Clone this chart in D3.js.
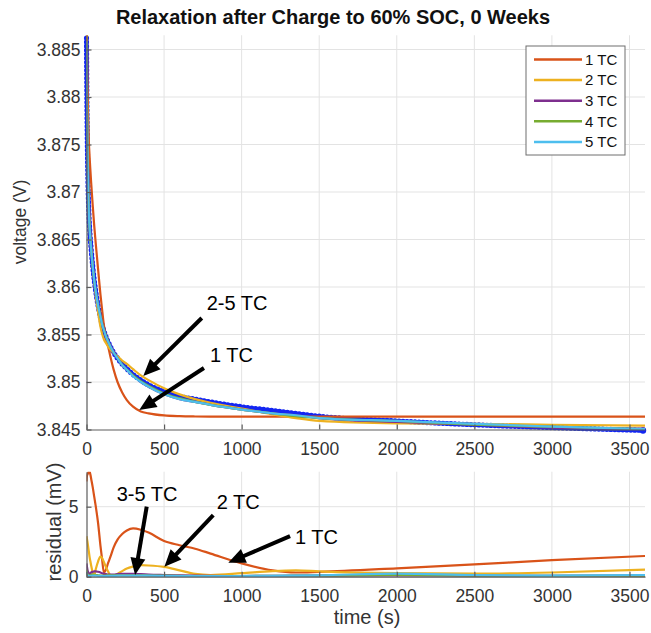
<!DOCTYPE html>
<html>
<head>
<meta charset="utf-8">
<script src="https://cdn.jsdelivr.net/npm/d3@7/dist/d3.min.js"></script>
<style>
  html, body { margin: 0; padding: 0; background: #fff; }
  svg { display: block; font-family: "Liberation Sans", Arial, Helvetica, sans-serif; }
</style>
</head>
<body>
<svg id="chart" width="651" height="633"></svg>
<script>
// Sample times (s) shared by every series
const time = [0, 3, 6, 10, 15, 20, 25, 30, 40, 50, 60, 75, 90, 100, 112, 125, 140, 155, 175, 200,
              230, 260, 300, 350, 400, 500, 600, 700, 800, 1000, 1200, 1350, 1500, 2000, 2500, 3000, 3600];

// Measured cell voltage during rest (V)
const measured = [3.8862, 3.8790, 3.8745, 3.8707, 3.8679, 3.8662, 3.8650, 3.8640, 3.8622, 3.8607,
                  3.8595, 3.8580, 3.8568, 3.8561, 3.8554, 3.8548, 3.8542, 3.8537, 3.8531, 3.8525,
                  3.8519, 3.8514, 3.8508, 3.8502, 3.8497, 3.8490, 3.8485, 3.8482, 3.8479, 3.8474,
                  3.8470, 3.8467, 3.8464, 3.8459, 3.8455, 3.8452, 3.8449];

// Fitted voltage for 1..5 time constants (V)
const fit1TC = [3.8935, 3.8862, 3.8818, 3.8781, 3.8754, 3.8737, 3.8723, 3.8710, 3.8686, 3.8664,
                3.8645, 3.8618, 3.8592, 3.8577, 3.8560, 3.8548, 3.8537, 3.8526, 3.8513, 3.8500,
                3.8489, 3.8481, 3.8474, 3.8469, 3.8467, 3.84648, 3.8464, 3.84637, 3.84636, 3.84635,
                3.84635, 3.84635, 3.84635, 3.84635, 3.84635, 3.84635, 3.84635];
const fit2TC = [3.8891, 3.8815, 3.8766, 3.8723, 3.8690, 3.8669, 3.8654, 3.8642, 3.8622, 3.8605,
                3.8591, 3.8573, 3.8558, 3.8551, 3.8545, 3.8541, 3.8537, 3.8534, 3.85305, 3.8527,
                3.85225, 3.8519, 3.85135, 3.8507, 3.8502, 3.84935, 3.8487, 3.8482, 3.8478, 3.8472,
                3.8466, 3.8462, 3.8459, 3.84565, 3.8456, 3.8455, 3.8454];
const fit3TC = [3.8853, 3.8784, 3.8741, 3.8704, 3.8676, 3.8660, 3.8648, 3.8638, 3.8621, 3.8607,
                3.8596, 3.8582, 3.8570, 3.8563, 3.8556, 3.8549, 3.8543, 3.8538, 3.8532, 3.8525,
                3.8518, 3.8513, 3.8507, 3.8500, 3.8495, 3.8487, 3.8482, 3.8479, 3.8476, 3.8471,
                3.8467, 3.8465, 3.8462, 3.8458, 3.8455, 3.8452, 3.8451];
const fit4TC = [3.8857, 3.8787, 3.8744, 3.8706, 3.8678, 3.8661, 3.8649, 3.8639, 3.8622, 3.8607,
                3.8595, 3.8581, 3.8569, 3.8562, 3.8555, 3.8549, 3.8543, 3.8537, 3.8531, 3.8525,
                3.8518, 3.8513, 3.8507, 3.8501, 3.8496, 3.8488, 3.8483, 3.8479, 3.8476, 3.8471,
                3.8467, 3.8464, 3.8462, 3.8459, 3.8455, 3.8453, 3.84505];
const fit5TC = [3.8859, 3.8788, 3.8745, 3.8706, 3.8679, 3.8662, 3.8650, 3.8639, 3.8622, 3.8607,
                3.8595, 3.8580, 3.8569, 3.8561, 3.8555, 3.8548, 3.8542, 3.8537, 3.8531, 3.8525,
                3.8518, 3.8513, 3.8506, 3.8500, 3.8495, 3.8487, 3.8482, 3.8479, 3.8476, 3.8471,
                3.8467, 3.8465, 3.8462, 3.8459, 3.8456, 3.8453, 3.84505];

// Absolute fit residuals (mV)
const resid1TC = [6.8, 7.2, 7.3, 7.4, 7.5, 7.5, 7.3, 7.0, 6.4, 5.7, 5.0, 3.8, 2.2, 1.3, 0.3, 0.5,
                  1.0, 1.45, 2.1, 2.65, 3.05, 3.3, 3.45, 3.35, 3.15, 2.55, 2.25, 2.0, 1.65, 0.95,
                  0.45, 0.3, 0.35, 0.6, 0.88, 1.18, 1.48];
const resid2TC = [2.9, 2.7, 2.5, 2.2, 1.8, 1.4, 1.1, 0.8, 0.3, 0.1, 0.55, 1.1, 1.43, 1.35, 1.05, 0.7,
                  0.35, 0.1, 0.05, 0.2, 0.4, 0.58, 0.72, 0.82, 0.8, 0.7, 0.45, 0.2, 0.12, 0.25,
                  0.4, 0.45, 0.38, 0.25, 0.22, 0.3, 0.5];
const resid3TC = [0.95, 0.7, 0.5, 0.35, 0.25, 0.2, 0.25, 0.3, 0.35, 0.38, 0.38, 0.35, 0.3, 0.25, 0.2, 0.18,
                  0.15, 0.15, 0.15, 0.18, 0.2, 0.2, 0.2, 0.18, 0.15, 0.12, 0.1, 0.08, 0.06, 0.05,
                  0.06, 0.08, 0.08, 0.1, 0.08, 0.06, 0.08];
const resid4TC = [0.5, 0.3, 0.2, 0.12, 0.1, 0.1, 0.12, 0.14, 0.15, 0.14, 0.12, 0.1, 0.08, 0.08, 0.08, 0.08,
                  0.1, 0.1, 0.1, 0.1, 0.1, 0.1, 0.1, 0.1, 0.08, 0.07, 0.06, 0.05, 0.05, 0.05,
                  0.06, 0.08, 0.08, 0.12, 0.08, 0.06, 0.07];
const resid5TC = [0.35, 0.2, 0.12, 0.08, 0.06, 0.05, 0.06, 0.07, 0.08, 0.08, 0.07, 0.06, 0.06, 0.05, 0.05, 0.05,
                  0.06, 0.06, 0.06, 0.07, 0.07, 0.07, 0.08, 0.08, 0.07, 0.06, 0.05, 0.05, 0.05, 0.05,
                  0.06, 0.08, 0.1, 0.22, 0.12, 0.08, 0.12];

const seriesNames = ["1 TC", "2 TC", "3 TC", "4 TC", "5 TC"];
const seriesColors = ["#D95319", "#EDB120", "#7E2F8E", "#77AC30", "#4DBEEE"];
const fits = [fit1TC, fit2TC, fit3TC, fit4TC, fit5TC];
const resids = [resid1TC, resid2TC, resid3TC, resid4TC, resid5TC];

const timeTicks = [0, 500, 1000, 1500, 2000, 2500, 3000, 3500];
const voltTicks = [3.845, 3.85, 3.855, 3.86, 3.865, 3.87, 3.875, 3.88, 3.885];
const residTicks = [0, 5];

const titleText = "Relaxation after Charge to 60% SOC, 0 Weeks";

// Arrow call-outs, in data units: label anchor, arrow tail, arrow head
const voltNotes = [
  { label: "2-5 TC", at: [775, 3.85832], tail: [743, 3.85674], head: [366, 3.85063] },
  { label: "1 TC",   at: [796, 3.85284], tail: [757, 3.85147], head: [340, 3.84705] }
];
const residNotes = [
  { label: "3-5 TC", at: [195, 5.9],  tail: [388, 5.0], head: [313, 0.12] },
  { label: "2 TC",   at: [839, 5.36], tail: [817, 4.4], head: [502, 0.71] },
  { label: "1 TC",   at: [1344, 2.86], tail: [1312, 2.9], head: [914, 1.0] }
];

// ---------------------------------------------------------------------------
const svg = d3.select("#chart");
const axisColor = "#5c5c5c";
const textColor = "#333333";
const gridColor = "#e3e3e3";
const dataBlue = "#1326f2";

const x = d3.scaleLinear().domain([0, 3600]).range([86.5, 645]);
const yV = d3.scaleLinear().domain([3.845, 3.8865]).range([429.5, 35.25]);
const yR = d3.scaleLinear().domain([0, 7.5]).range([576.7, 471.7]);

const defs = svg.append("defs");
defs.append("clipPath").attr("id", "clipTop").append("rect")
  .attr("x", x.range()[0]).attr("y", yV.range()[1])
  .attr("width", x.range()[1] - x.range()[0] + 2).attr("height", yV.range()[0] - yV.range()[1] + 2);
defs.append("clipPath").attr("id", "clipBot").append("rect")
  .attr("x", x.range()[0]).attr("y", yR.range()[1])
  .attr("width", x.range()[1] - x.range()[0] + 2).attr("height", yR.range()[0] - yR.range()[1] + 2);

function drawGrid(g, yScale, yTicks) {
  g.selectAll("line.vg").data(timeTicks.filter(d => d > 0)).join("line")
    .attr("class", "vg")
    .attr("x1", d => x(d)).attr("x2", d => x(d))
    .attr("y1", yScale.range()[0]).attr("y2", yScale.range()[1])
    .attr("stroke", gridColor).attr("stroke-width", 1);
  g.selectAll("line.hg").data(yTicks.slice(1)).join("line")
    .attr("class", "hg")
    .attr("x1", x.range()[0]).attr("x2", x.range()[1])
    .attr("y1", d => yScale(d)).attr("y2", d => yScale(d))
    .attr("stroke", gridColor).attr("stroke-width", 1);
}

function styleAxis(g, fontSize) {
  g.select(".domain").attr("stroke", axisColor).attr("stroke-width", 1.2);
  g.selectAll(".tick line").attr("stroke", axisColor).attr("stroke-width", 1.2);
  g.selectAll(".tick text").attr("fill", textColor).style("font-size", fontSize + "px")
    .style("font-family", '"Liberation Sans", Arial, Helvetica, sans-serif');
}

function arrow(g, p0, p1) {
  const dx = p1[0] - p0[0], dy = p1[1] - p0[1];
  const L = Math.hypot(dx, dy), ux = dx / L, uy = dy / L;
  const hl = 17, hw = 7.5;
  const bx = p1[0] - ux * hl, by = p1[1] - uy * hl;
  g.append("line")
    .attr("x1", p0[0]).attr("y1", p0[1])
    .attr("x2", bx + ux * 2).attr("y2", by + uy * 2)
    .attr("stroke", "#000").attr("stroke-width", 4);
  g.append("polygon")
    .attr("points", [[p1[0], p1[1]], [bx - uy * hw, by + ux * hw], [bx + uy * hw, by - ux * hw]]
      .map(p => p.join(",")).join(" "))
    .attr("fill", "#000");
}

function drawNotes(g, notes, yScale) {
  notes.forEach(n => {
    arrow(g, [x(n.tail[0]), yScale(n.tail[1])], [x(n.head[0]), yScale(n.head[1])]);
    g.append("text")
      .attr("x", x(n.at[0])).attr("y", yScale(n.at[1])).attr("dy", "0.35em")
      .attr("fill", "#000").style("font-size", "20px")
      .text(n.label);
  });
}

// ---------------- Title ----------------
svg.append("text")
  .attr("x", 333).attr("y", 24)
  .attr("text-anchor", "middle")
  .attr("fill", "#111")
  .style("font-size", "20px").style("font-weight", "bold")
  .text(titleText);

// ---------------- Voltage panel ----------------
const gTop = svg.append("g");
drawGrid(gTop, yV, voltTicks);

const lineV = d3.line().x((d, i) => x(time[i])).y(d => yV(d)).curve(d3.curveMonotoneX);

// measured trace: solid core plus dot markers along it
gTop.append("path").datum(measured)
  .attr("d", lineV).attr("fill", "none")
  .attr("stroke", dataBlue).attr("stroke-width", 3.6);
gTop.append("path").datum(measured)
  .attr("d", lineV).attr("fill", "none")
  .attr("stroke", dataBlue).attr("stroke-width", 5.2)
  .attr("stroke-linecap", "round").attr("stroke-dasharray", "0 4");
gTop.append("circle")
  .attr("cx", x(time[time.length - 1]) - 2).attr("cy", yV(measured[measured.length - 1]))
  .attr("r", 3.2).attr("fill", dataBlue);

const fitLayer = gTop.append("g").attr("clip-path", "url(#clipTop)");
fits.forEach((f, k) => {
  fitLayer.append("path").datum(f)
    .attr("d", lineV).attr("fill", "none")
    .attr("stroke", seriesColors[k]).attr("stroke-width", 2.2)
    .attr("stroke-linejoin", "round");
});

const xAxisTop = gTop.append("g")
  .attr("transform", `translate(0,${yV.range()[0]})`)
  .call(d3.axisBottom(x).tickValues(timeTicks).tickSizeInner(-5).tickSizeOuter(0).tickPadding(13)
    .tickFormat(d3.format("d")));
styleAxis(xAxisTop, 17.5);

const yAxisTop = gTop.append("g")
  .attr("transform", `translate(${x.range()[0]},0)`)
  .call(d3.axisLeft(yV).tickValues(voltTicks).tickSizeInner(-5).tickSizeOuter(0).tickPadding(6)
    .tickFormat(d => String(+d.toFixed(3))));
styleAxis(yAxisTop, 17.5);

svg.append("text")
  .attr("transform", "translate(20,222) rotate(-90)")
  .attr("text-anchor", "middle").attr("dy", "0.35em")
  .attr("fill", textColor).style("font-size", "17.5px")
  .text("voltage (V)");

drawNotes(gTop, voltNotes, yV);

// legend
const leg = svg.append("g");
leg.append("rect")
  .attr("x", 526).attr("y", 46).attr("width", 99).attr("height", 109)
  .attr("fill", "#fff").attr("stroke", "#6e6e6e").attr("stroke-width", 1);
seriesNames.forEach((name, k) => {
  const yy = 59.5 + k * 20.6;
  leg.append("line").attr("x1", 534).attr("x2", 582).attr("y1", yy).attr("y2", yy)
    .attr("stroke", seriesColors[k]).attr("stroke-width", 2.5);
  leg.append("text").attr("x", 585).attr("y", yy).attr("dy", "0.35em")
    .attr("fill", "#111").style("font-size", "15px").text(name);
});

// ---------------- Residual panel ----------------
const gBot = svg.append("g");
drawGrid(gBot, yR, residTicks);

const lineR = d3.line().x((d, i) => x(time[i])).y(d => yR(d)).curve(d3.curveMonotoneX);
const residLayer = gBot.append("g").attr("clip-path", "url(#clipBot)");
resids.forEach((r, k) => {
  residLayer.append("path").datum(r)
    .attr("d", lineR).attr("fill", "none")
    .attr("stroke", seriesColors[k]).attr("stroke-width", 2.2)
    .attr("stroke-linejoin", "round");
});

const xAxisBot = gBot.append("g")
  .attr("transform", `translate(0,${yR.range()[0]})`)
  .call(d3.axisBottom(x).tickValues(timeTicks).tickSizeInner(-5).tickSizeOuter(0).tickPadding(12.5)
    .tickFormat(d3.format("d")));
styleAxis(xAxisBot, 17.5);

const yAxisBot = gBot.append("g")
  .attr("transform", `translate(${x.range()[0]},0)`)
  .call(d3.axisLeft(yR).tickValues(residTicks).tickSizeInner(-5).tickSizeOuter(0).tickPadding(8)
    .tickFormat(d3.format("d")));
styleAxis(yAxisBot, 17.5);

svg.append("text")
  .attr("transform", "translate(54,522) rotate(-90)")
  .attr("text-anchor", "middle").attr("dy", "0.35em")
  .attr("fill", textColor).style("font-size", "20px")
  .text("residual (mV)");

svg.append("text")
  .attr("x", 367).attr("y", 617).attr("dy", "0.35em")
  .attr("text-anchor", "middle")
  .attr("fill", textColor).style("font-size", "20px")
  .text("time (s)");

drawNotes(gBot, residNotes, yR);
</script>
</body>
</html>
